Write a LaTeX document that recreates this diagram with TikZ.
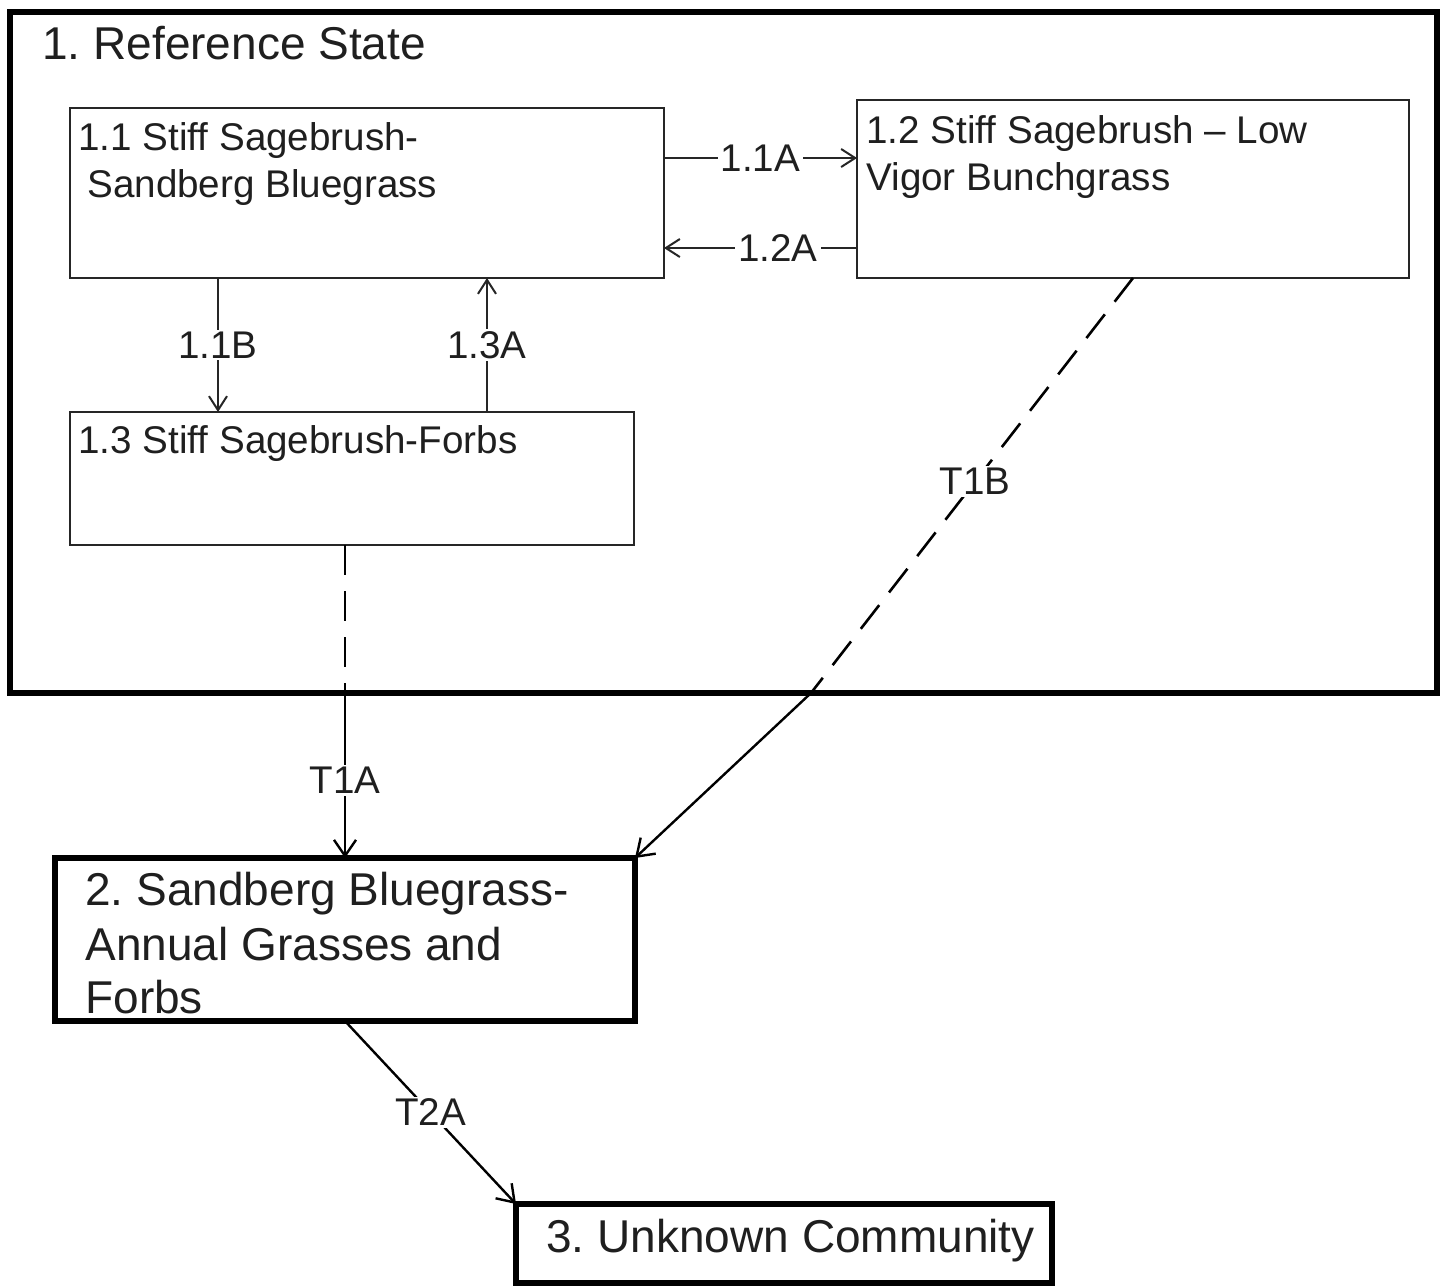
\documentclass[tikz,border=0pt]{standalone}
\usepackage{fontspec}
\setmainfont{Liberation Sans}
\usetikzlibrary{arrows.meta}
\frenchspacing
\begin{document}
\frenchspacing
\begin{tikzpicture}[x=0.5pt,y=-0.5pt,
  thinbox/.style={draw=black!85, line width=1.2pt, inner sep=0pt, outer sep=0pt, anchor=north west},
  thickbox/.style={draw=black, line width=2.6pt, inner sep=0pt, outer sep=0pt, anchor=north west},
  big/.style={font=\fontsize{23}{27}\selectfont, text=black!88, inner sep=0pt, anchor=base west},
  small/.style={font=\fontsize{19.3}{23}\selectfont, text=black!88, inner sep=0pt, anchor=base west},
  sarr/.style={line width=1pt, draw=black!85, -{Straight Barb[length=7pt,width=9pt]}},
  barr/.style={line width=1.2pt, draw=black, -{Straight Barb[length=8pt,width=11pt]}},
  dsh/.style={line width=1.3pt, draw=black, dash pattern=on 15pt off 8pt},
  lab/.style={font=\fontsize{19.3}{23}\selectfont, text=black!88, fill=white, inner xsep=1.5pt, inner ysep=1pt},
]
\fill[white] (0,0) rectangle (1446,1287);
\useasboundingbox (0,0) rectangle (1446,1287);

% boxes
\node[thickbox, line width=3pt, minimum width=713.5pt, minimum height=340.5pt] (ref) at (10,12) {};
\node[thinbox, minimum width=297pt, minimum height=85pt] (b11) at (70,108) {};
\node[thinbox, minimum width=276pt, minimum height=89pt] (b12) at (857,100) {};
\node[thinbox, minimum width=282pt, minimum height=66.5pt] (b13) at (70,412) {};
\node[thickbox, minimum width=290pt, minimum height=81.5pt] (b2) at (55,858) {};
\node[thickbox, minimum width=268pt, minimum height=39.5pt] (b3) at (516,1204) {};

% texts
\node[big] (title) at (42,59) {1. Reference State};
\node[small] (t11a) at (78,150) {1.1 Stiff Sagebrush-};
\node[small] (t11b) at (87,197) {Sandberg Bluegrass};
\node[small] (t12a) at (866,143) {1.2 Stiff Sagebrush – Low};
\node[small] (t12b) at (866,190) {Vigor Bunchgrass};
\node[small] (t13) at (78,453) {1.3 Stiff Sagebrush-Forbs};
\node[big] (t2a) at (85,905) {2. Sandberg Bluegrass-};
\node[big] (t2b) at (85,960) {Annual Grasses and};
\node[big] (t2c) at (85,1013) {Forbs};
\node[big] (t3) at (546,1252) {3. Unknown Community};

% helper coordinates
\coordinate (ya) at (0,158);
\coordinate (yb) at (0,248);
\coordinate (xa) at (218,0);
\coordinate (xb) at (487,0);
\coordinate (xc) at (345,0);
\coordinate (xd) at (1133,0);
\coordinate (xe) at (811,0);

% connectors inside the reference state
\draw[sarr] (b11.east |- ya) -- (b12.west |- ya) node[lab, pos=0.5] {1.1A};
\draw[sarr] (b12.west |- yb) -- (b11.east |- yb) node[lab, pos=0.41] {1.2A};
\draw[sarr] (b11.south -| xa) -- (b13.north -| xa) node[lab, midway] {1.1B};
\draw[sarr] (b13.north -| xb) -- (b11.south -| xb) node[lab, midway] {1.3A};

% transitions
\draw[dsh] (b13.south -| xc) -- (ref.south -| xc);
\draw[barr] (ref.south -| xc) -- (b2.north -| xc) node[lab, pos=0.53] {T1A};
\draw[dsh] (b12.south -| xd) -- (ref.south -| xe) node[lab, pos=0.49] {T1B};
\draw[barr] (ref.south -| xe) -- (b2.north east);
\draw[barr] (b2.south -| xc) -- (b3.north west) node[lab, midway] {T2A};
\end{tikzpicture}
\end{document}
